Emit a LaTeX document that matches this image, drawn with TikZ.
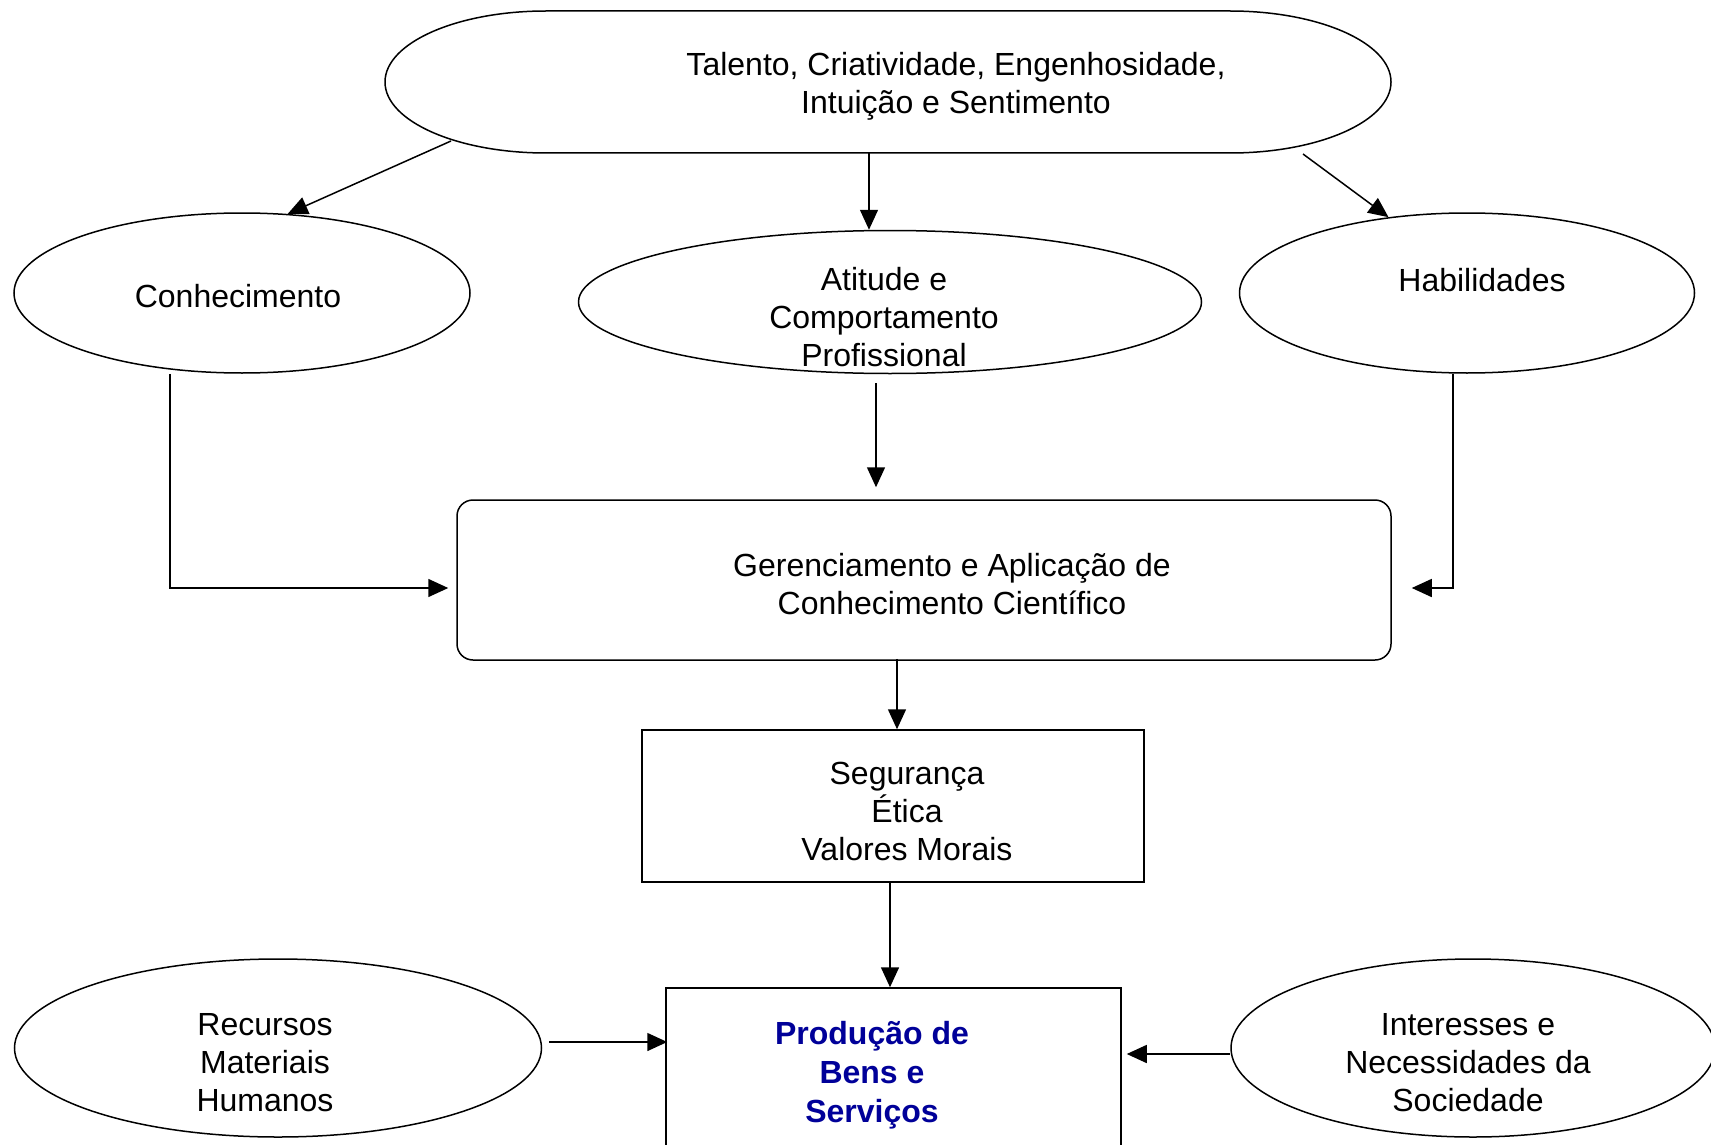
\documentclass[tikz,border=0pt]{standalone}
\usepackage{fontspec}
\setmainfont{Liberation Sans}
\usetikzlibrary{shapes.geometric,arrows.meta,calc}
\definecolor{prodblue}{RGB}{0,0,153}
\begin{document}
\begin{tikzpicture}[x=1pt,y=-1pt,
  lw/.style={line width=1.5pt},
  arr/.style={line width=1.5pt,-{Triangle[length=20pt,width=18pt]}},
  ell/.style={draw,line width=1.5pt,ellipse,inner sep=0pt},
  boxx/.style={draw,line width=1.5pt,inner sep=0pt},
  txt/.style={align=center,font=\fontsize{32}{38}\selectfont,inner sep=0pt},
  ]
\useasboundingbox[fill=white] (0,0) rectangle (1711,1145);

% top rounded shape
\node[minimum width=1006pt,minimum height=142pt,inner sep=0pt] (top) at (888,82) {};
\draw[lw] (546,11) -- (1230,11) arc[start angle=-90,end angle=90,x radius=161,y radius=71]
  -- (546,153) arc[start angle=90,end angle=270,x radius=161,y radius=71] -- cycle;
\node[txt] (topT) at (956,86) {Talento, Criatividade, Engenhosidade,\\Intuição e Sentimento};

% second row
\node[ell,minimum width=456pt,minimum height=160pt] (con) at (242,293) {};
\node[txt] (conT) at (238,296) {Conhecimento};
\node[ell,minimum width=623pt,minimum height=143pt] (ati) at (890,302) {};
\node[txt] (atiT) at (884,317) {Atitude e\\Comportamento\\Profissional};
\node[ell,minimum width=455pt,minimum height=160pt] (hab) at (1467,293) {};
\node[txt] (habT) at (1482,280) {Habilidades};

% middle
\node[boxx,rounded corners=16pt,minimum width=934pt,minimum height=160pt] (ger) at (924,580) {};
\node[txt] (gerT) at (952,584) {Gerenciamento e Aplicação de\\Conhecimento Científico};
\node[boxx,minimum width=502pt,minimum height=152pt] (seg) at (893,806) {};
\node[txt] (segT) at (907,811) {Segurança\\Ética\\Valores Morais};

% bottom
\node[boxx,minimum width=455pt,minimum height=200pt] (prod) at (893.5,1088) {};
\node[txt,font=\fontsize{32}{39}\selectfont\bfseries,text=prodblue] (prodT) at (872,1075) {Produção de\\Bens e\\Serviços};
\node[ell,minimum width=527pt,minimum height=178pt] (rec) at (278,1048) {};
\node[txt] (recT) at (265,1063) {Recursos\\Materiais\\Humanos};
\node[ell,minimum width=484pt,minimum height=178pt] (int) at (1473,1048) {};
\node[txt] (intT) at (1468,1063) {Interesses e\\Necessidades da\\Sociedade};

% connectors
\coordinate (a1) at (451,141);
\draw[arr] (a1) -- (con.60);
\draw[arr] ([xshift=-19pt]top.south) -- ([xshift=-21pt]ati.north);
\coordinate (a3) at (1303,154);
\draw[arr] (a3) -- (hab.136);
\draw[arr] ([xshift=-72pt]con.south) |- ([xshift=-8pt,yshift=-8pt]ger.west);
\draw[arr] ([xshift=-14pt,yshift=-9pt]ati.south) -- ([xshift=-48pt,yshift=12pt]ger.north);
\draw[arr] ([xshift=-14pt]hab.south) |- ([xshift=20pt,yshift=-8pt]ger.east);
\draw[arr] ([xshift=-27pt,yshift=2pt]ger.south) -- ([xshift=4pt]seg.north);
\draw[arr] ([xshift=-3pt]seg.south) -- ([xshift=-3.5pt]prod.north);
\draw[arr] ([xshift=7pt,yshift=6pt]rec.east) coordinate (r1) -- ([xshift=2pt]r1 -| prod.west);
\draw[arr] ([yshift=-6pt]int.west) coordinate (i1) -- ([xshift=5pt]i1 -| prod.east);
\end{tikzpicture}
\end{document}
